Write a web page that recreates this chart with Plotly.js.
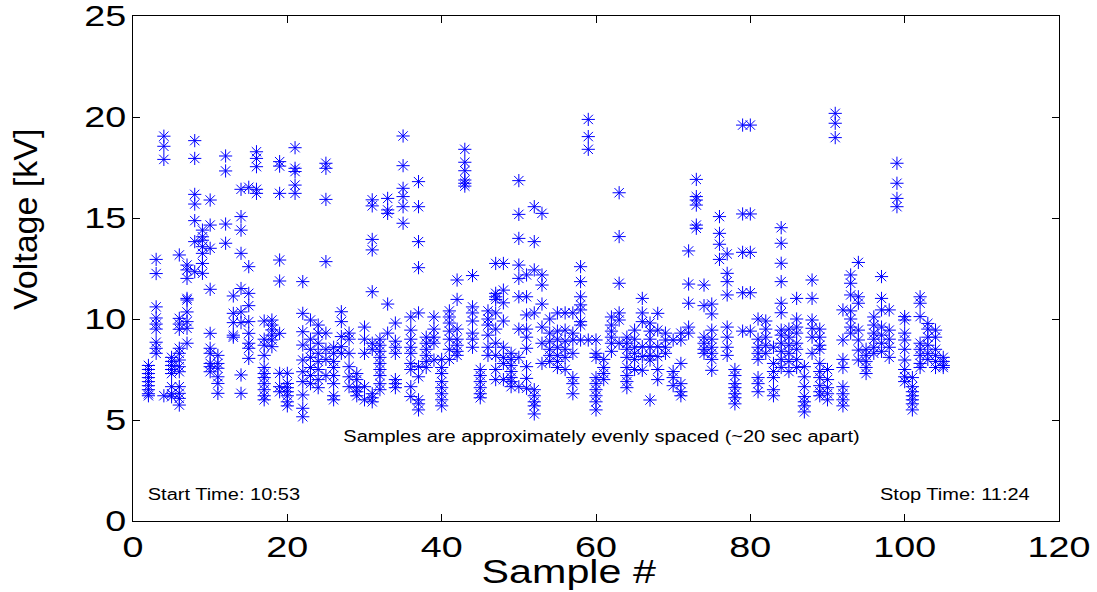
<!DOCTYPE html>
<html>
<head>
<meta charset="utf-8">
<script src="https://cdn.plot.ly/plotly-3.0.1.min.js"></script>
<style>html,body{margin:0;padding:0;background:#fff;}#chart{width:1097px;height:592px;}</style>
</head>
<body>
<div id="chart"></div>
<script>
// Sample numbers (first sample shown is #2)
const sampleIds = [];
for (let n = 2; n <= 105; n++) sampleIds.push(n);

// Voltage readings [kV] for each sample
const readings = [
  [7.7, 7.5, 7.3, 7.1, 6.9, 6.7, 6.5, 6.3, 6.2],                 // 2
  [12.95, 12.25, 10.6, 10.05, 9.75, 9.5, 8.85, 8.55, 8.3],       // 3
  [19.05, 18.55, 17.9, 6.2],                                     // 4
  [8.1, 7.9, 7.7, 7.5, 7.3, 6.65, 6.3, 6.15],                    // 5
  [13.17, 10.03, 9.75, 9.49, 8.55, 8.3, 7.97, 7.64, 7.39, 6.65, 6.32, 6.07, 5.74], // 6
  [12.67, 12.43, 12.01, 11.02, 10.94, 10.35, 9.87, 9.54, 8.8],   // 7
  [18.83, 17.95, 16.17, 15.69, 14.87, 13.83, 12.34],             // 8
  [14.4, 14.07, 13.9, 13.58, 13.25, 12.75, 12.26],               // 9
  [15.89, 14.65, 13.5, 11.47, 9.29, 8.55, 8.3, 7.8, 7.64, 7.39], // 10
  [8.2, 7.8, 7.56, 7.14, 6.81, 6.32],                            // 11
  [18.07, 17.33, 14.7, 13.75],                                   // 12
  [11.14, 10.28, 9.82, 9.2, 9.1],                                // 13
  [16.42, 15.07, 14.4, 13.25, 11.51, 10.35, 9.82, 7.23, 6.32],   // 14
  [16.52, 12.59, 11.27, 10.66, 9.87, 9.29, 8.8, 8.55, 8.05],     // 15
  [18.28, 17.95, 17.54, 16.42, 16.22],                           // 16
  [9.9, 9.0, 8.7, 8.2, 7.6, 7.3, 7.1, 6.8, 6.5, 6.2, 6.0],       // 17
  [9.95, 9.7, 9.46, 9.2, 8.96, 8.63],                            // 18
  [17.79, 17.57, 16.22, 12.92, 11.88, 9.29, 7.31, 6.65, 6.4],    // 19
  [7.31, 6.81, 6.6, 6.4, 6.2, 5.9, 5.7],                         // 20
  [18.48, 17.46, 17.3, 16.63, 16.22],                            // 21
  [11.85, 10.28, 9.37, 8.71, 7.97, 7.39, 6.9, 6.24, 5.58, 5.16], // 22
  [9.95, 9.0, 8.5, 8.1, 7.6, 7.2, 6.8],                          // 23
  [9.7, 9.3, 8.8, 8.3, 7.9, 7.5, 7.0, 6.6],                      // 24
  [17.71, 17.46, 15.92, 12.84, 9.3, 8.5, 8.0, 7.2],              // 25
  [8.6, 8.3, 7.9, 7.6, 7.2, 6.8, 6.2, 6.0],                      // 26
  [10.36, 9.87, 9.13, 8.63, 8.3],                                // 27
  [9.3, 9.0, 8.3, 7.64, 7.14, 6.65],                             // 28
  [7.3, 7.0, 6.6, 6.4, 6.2],                                     // 29
  [9.6, 9.0, 8.3, 6.65, 6.0],                                    // 30
  [15.9, 15.6, 13.94, 13.42, 11.35, 8.8, 8.5, 6.3, 6.1, 5.9],    // 31
  [9.0, 8.7, 8.4, 8.1, 7.8, 7.5, 7.2, 6.8, 6.5],                 // 32
  [15.97, 15.4, 15.23, 10.74, 9.3],                              // 33
  [9.8, 8.9, 8.6, 8.3, 7.0, 6.8, 6.6],                           // 34
  [19.06, 17.59, 16.47, 16.06, 15.56, 14.74],                    // 35
  [10.1, 9.45, 9.0, 8.6, 8.3, 7.8, 7.5, 6.65, 6.16],             // 36
  [16.8, 15.56, 13.83, 12.54, 10.3, 7.64, 7.14, 6.0, 5.8, 5.5],  // 37
  [9.1, 8.8, 8.5, 8.2, 7.9, 7.6],                                // 38
  [10.1, 9.5, 9.1, 8.8, 7.97],                                   // 39
  [8.0, 7.6, 7.3, 6.9, 6.6, 6.3, 6.0, 5.7],                      // 40
  [10.4, 10.1, 9.8, 9.4, 9.0, 8.5, 8.0],                         // 41
  [11.93, 10.97, 9.5, 9.0, 8.7, 8.4, 8.2],                       // 42
  [18.4, 17.76, 17.34, 16.88, 16.72, 16.58],                     // 43
  [12.15, 10.6, 10.3, 9.9, 9.3, 9.0, 8.6],                       // 44
  [7.5, 7.2, 6.9, 6.6, 6.3, 6.1],                                // 45
  [10.4, 10.0, 9.7, 9.2, 8.6, 8.2],                              // 46
  [12.75, 11.27, 11.1, 10.97, 10.3, 9.5, 8.8, 8.2, 7.5, 7.0],    // 47
  [12.75, 11.43, 10.8, 9.9, 8.6, 8.1, 7.8, 7.0],                 // 48
  [8.3, 8.0, 7.7, 7.4, 7.1, 6.9, 6.65],                          // 49
  [16.85, 15.18, 13.99, 12.67, 12.01, 11.1, 9.5, 8.1, 6.65],     // 50
  [12.18, 11.1, 10.2, 9.5, 9.1, 8.55, 7.64, 7.06, 6.57],         // 51
  [15.56, 13.83, 12.43, 10.3, 6.5, 6.2, 5.9, 5.7, 5.3],          // 52
  [15.23, 12.18, 11.68, 10.74, 9.6, 8.8, 7.8],                   // 53
  [10.0, 9.3, 8.9, 8.5, 8.2, 7.9],                               // 54
  [10.3, 9.4, 9.0, 8.6, 8.2, 7.9, 7.6],                          // 55
  [10.3, 9.45, 8.9, 8.5, 8.1, 7.5],                              // 56
  [10.3, 9.3, 8.96, 8.3, 7.1, 6.8, 6.3],                         // 57
  [12.59, 11.85, 11.1, 10.7, 10.45, 9.87, 9.7, 8.96],            // 58
  [19.88, 19.03, 18.4, 8.96],                                    // 59
  [8.96, 8.3, 8.1, 7.1, 6.8, 6.5, 6.2, 5.9, 5.5],                // 60
  [8.0, 7.6, 7.3, 7.0],                                          // 61
  [10.1, 9.7, 9.4, 9.1, 8.8, 8.4],                               // 62
  [16.25, 14.08, 11.77, 10.3, 9.95, 8.8],                        // 63
  [9.1, 8.8, 8.5, 8.1, 7.6, 7.2, 6.9, 6.6],                      // 64
  [9.45, 9.0, 8.6, 8.3, 8.0, 7.5],                               // 65
  [11.02, 10.3, 9.87, 8.63, 8.14, 7.46],                         // 66
  [9.8, 9.4, 9.0, 8.6, 8.2, 7.97, 5.99],                         // 67
  [10.28, 9.45, 8.63, 8.14, 7.5, 7.0],                           // 68
  [9.3, 8.96, 8.6, 8.3],                                         // 69
  [8.96, 7.4, 7.1, 6.7],                                         // 70
  [9.3, 8.96, 7.8, 6.8, 6.4, 6.2],                               // 71
  [13.37, 11.73, 10.78, 9.6, 9.3],                               // 72
  [16.91, 16.06, 15.89, 15.64, 14.65, 14.49],                    // 73
  [11.68, 10.66, 9.1, 8.8, 8.5, 8.3],                            // 74
  [10.74, 10.25, 9.45, 9.0, 8.6, 8.3, 8.0, 7.46],                // 75
  [15.07, 14.24, 13.7, 12.95],                                   // 76
  [13.22, 12.26, 11.85, 11.19, 9.6, 9.1, 8.6, 8.2],              // 77
  [7.5, 7.2, 6.8, 6.6, 6.3, 6.1, 5.8],                           // 78
  [19.6, 15.2, 13.3, 11.3, 9.4],                                 // 79
  [19.6, 15.2, 13.3, 11.3, 9.4],                                 // 80
  [10.0, 9.0, 8.6, 8.3, 8.0, 7.1, 6.8, 6.4],                     // 81
  [9.9, 9.5, 9.1, 8.7, 8.3],                                     // 82
  [8.6, 7.8, 7.4, 7.1, 6.5, 6.2],                                // 83
  [14.52, 13.75, 12.76, 11.85, 10.78, 10.31, 9.45, 9.2, 8.8, 8.4, 8.0, 7.6], // 84
  [9.5, 9.1, 8.7, 8.3, 7.9, 7.4],                                // 85
  [11.02, 10.0, 9.6, 9.3, 8.8, 8.5, 8.0, 7.6],                   // 86
  [7.64, 7.14, 6.65, 6.16, 5.9, 5.7, 5.4],                       // 87
  [11.93, 11.02, 9.95, 9.54, 9.1, 8.3],                          // 88
  [9.5, 9.1, 8.7, 8.5, 7.8, 7.4, 7.1, 6.7, 6.4, 6.2],            // 89
  [7.5, 7.0, 6.6, 6.3, 6.0],                                     // 90
  [20.18, 19.69, 18.98],                                         // 91
  [10.45, 8.96, 8.0, 7.6, 6.65, 6.3, 6.0, 5.7],                  // 92
  [12.18, 11.77, 11.19, 10.4, 10.0, 9.6, 9.3],                   // 93
  [12.8, 11.1, 10.78, 9.45, 8.96, 8.46, 7.97],                   // 94
  [8.5, 8.2, 7.9, 7.6, 7.3],                                     // 95
  [10.1, 9.7, 9.3, 9.0, 8.6, 8.3],                               // 96
  [12.1, 11.02, 10.45, 9.6, 9.2, 8.8, 8.4],                      // 97
  [10.45, 9.45, 9.0, 8.6, 8.1],                                  // 98
  [17.71, 16.72, 15.97, 15.56],                                  // 99
  [10.12, 9.95, 9.3, 8.96, 8.5, 7.97, 7.5, 7.14, 6.9],           // 100
  [7.1, 6.65, 6.4, 6.2, 6.0, 5.8, 5.5],                          // 101
  [11.1, 10.78, 10.12, 8.8, 8.5, 8.2, 7.8, 7.6],                 // 102
  [9.78, 9.5, 9.1, 8.7, 8.3, 8.0],                               // 103
  [9.45, 9.1, 8.5, 8.2, 7.9, 7.6],                               // 104
  [8.1, 7.9, 7.7, 7.6]                                           // 105
];

const xTickVals = [0, 20, 40, 60, 80, 100, 120];
const yTickVals = [0, 5, 10, 15, 20, 25];
const noteText = 'Samples are approximately evenly spaced (~20 sec apart)';
const startText = 'Start Time: 10:53';
const stopText = 'Stop Time: 11:24';
const xTitle = 'Sample #';
const yTitle = 'Voltage [kV]';

const xs = [], ys = [];
sampleIds.forEach((n, i) => {
  readings[i].forEach(v => { xs.push(n); ys.push(v); });
});

const trace = {
  x: xs, y: ys, type: 'scatter', mode: 'markers',
  marker: { symbol: 'asterisk-open', size: 11, color: '#0000ff', line: { width: 1, color: '#0000ff' } },
  hoverinfo: 'x+y', showlegend: false, cliponaxis: true
};

const F = 'Liberation Sans, Arial, sans-serif';
const layout = {
  width: 1097, height: 592,
  margin: { l: 133, r: 38, t: 16, b: 71, pad: 0 },
  paper_bgcolor: '#ffffff', plot_bgcolor: '#ffffff',
  showlegend: false,
  xaxis: {
    range: [0, 120], tickvals: xTickVals, ticks: 'inside', ticklen: 7, tickcolor: '#000',
    showline: true, mirror: 'ticks', linecolor: '#000', linewidth: 1,
    showgrid: false, zeroline: false, ticklabeloverflow: 'allow',
    tickfont: { family: F, size: 29, color: '#000' }
  },
  yaxis: {
    range: [0, 25.0001], tickvals: yTickVals, ticks: 'inside', ticklen: 7, tickcolor: '#000',
    showline: true, mirror: 'ticks', linecolor: '#000', linewidth: 1,
    showgrid: false, zeroline: false, ticklabeloverflow: 'allow',
    tickfont: { family: F, size: 29, color: '#000' }
  },
  annotations: [
    { text: noteText, xref: 'paper', yref: 'paper', x: 0.506, y: 0.168, xanchor: 'center', yanchor: 'middle',
      showarrow: false, font: { family: F, size: 16, color: '#000' } },
    { text: startText, xref: 'paper', yref: 'paper', x: 0.098, y: 0.0515, xanchor: 'center', yanchor: 'middle',
      showarrow: false, font: { family: F, size: 16, color: '#000' } },
    { text: stopText, xref: 'paper', yref: 'paper', x: 0.888, y: 0.0515, xanchor: 'center', yanchor: 'middle',
      showarrow: false, font: { family: F, size: 16, color: '#000' } },
    { text: xTitle, xref: 'paper', yref: 'paper', x: 0.471, y: -0.1, xanchor: 'center', yanchor: 'middle',
      showarrow: false, font: { family: F, size: 33, color: '#000' } },
    { text: yTitle, xref: 'paper', yref: 'paper', x: -0.1166, y: 0.596, xanchor: 'center', yanchor: 'middle',
      textangle: -90, showarrow: false, font: { family: F, size: 34, color: '#000' } }
  ]
};

// The reference figure's lettering is horizontally widened; reproduce that look
function widen(selector, k) {
  document.querySelectorAll(selector).forEach(el => {
    const x = parseFloat(el.getAttribute('x')) || 0;
    const t = el.getAttribute('transform') || '';
    el.setAttribute('transform', (t + ' translate(' + x + ',0) scale(' + k + ',1) translate(' + (-x) + ',0)').trim());
  });
}

Plotly.newPlot('chart', [trace], layout, { displayModeBar: false, staticPlot: true }).then(() => {
  widen('#chart .xtick text', 1.3);
  widen('#chart .ytick text', 1.3);
  [0, 1, 2].forEach(i => widen('#chart g.annotation[data-index="' + i + '"] text.annotation-text', 1.25));
  widen('#chart g.annotation[data-index="3"] text.annotation-text', 1.25);
});
</script>
</body>
</html>
